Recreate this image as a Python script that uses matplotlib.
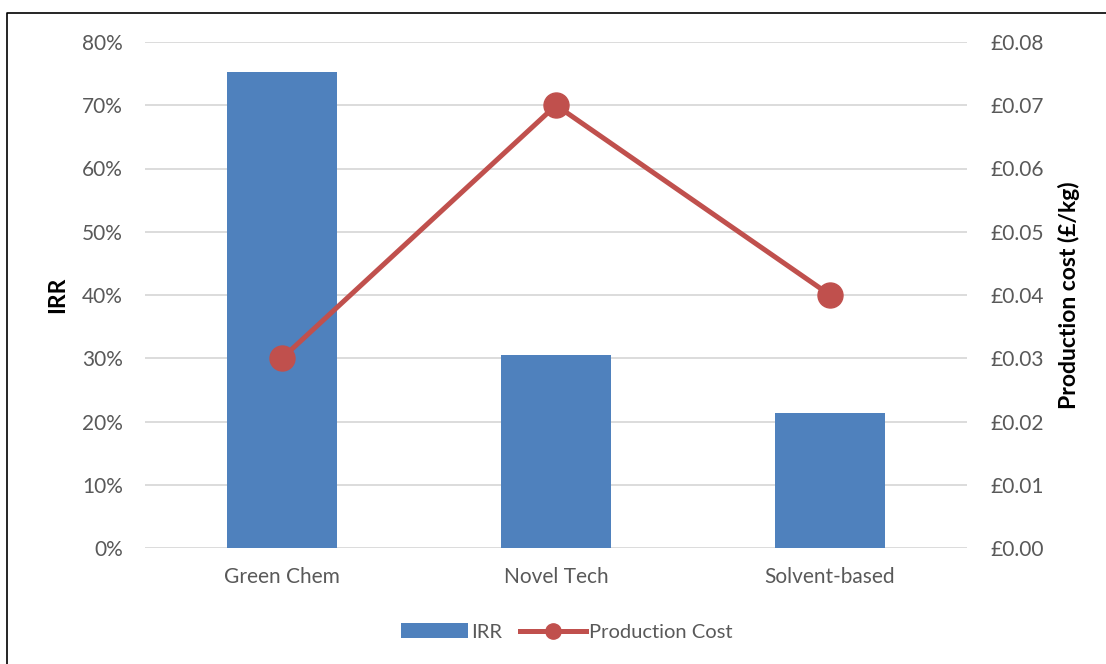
import matplotlib.pyplot as plt
from matplotlib.lines import Line2D
from matplotlib.patches import Patch
from matplotlib.ticker import FuncFormatter

categories = ["Green Chem", "Novel Tech", "Solvent-based"]
irr = [0.752, 0.305, 0.213]
production_cost = [0.03, 0.07, 0.04]

bar_color = "#4F81BD"
line_color = "#C0504D"
grid_color = "#D9D9D9"
text_color = "#595959"

plt.rcParams["font.family"] = ["Lato", "DejaVu Sans"]

fig = plt.figure(figsize=(11.06, 6.64), dpi=100)
ax = fig.add_axes([145 / 1106, 1 - 548 / 664, (967 - 145) / 1106, (548 - 42) / 664])
ax2 = ax.twinx()

x = list(range(len(categories)))
ax.bar(x, irr, width=0.4, color=bar_color, zorder=2)
ax.set_xlim(-0.5, len(categories) - 0.5)
ax.set_ylim(0, 0.8)
ax.set_yticks([i / 10 for i in range(9)])
ax.yaxis.set_major_formatter(FuncFormatter(lambda v, p: f"{v * 100:.0f}%"))
ax.set_xticks(x)
ax.set_xticklabels(categories)
ax.grid(axis="y", color=grid_color, linewidth=1.3, zorder=0)
ax.set_axisbelow(True)

ax2.plot(x, production_cost, color=line_color, linewidth=3.6, marker="o",
         markersize=18, zorder=3)
ax2.set_ylim(0, 0.08)
ax2.set_yticks([i / 100 for i in range(9)])
ax2.yaxis.set_major_formatter(FuncFormatter(lambda v, p: f"£{v:.2f}"))

for a in (ax, ax2):
    for s in a.spines.values():
        s.set_visible(False)
    a.tick_params(length=0, labelsize=15, colors=text_color)
ax.tick_params(axis="y", pad=16)
ax.tick_params(axis="x", pad=14)
ax2.tick_params(axis="y", pad=17)

ax.set_ylabel("IRR", fontsize=16.5, fontweight="bold", color="black", labelpad=10)
ax2.set_ylabel("Production cost (£/kg)", fontsize=16.5, fontweight="bold",
               color="black", labelpad=10)

handles = [
    Patch(facecolor=bar_color, label="IRR"),
    Line2D([0], [0], color=line_color, linewidth=3.6, marker="o", markersize=11,
           label="Production Cost"),
]
fig.legend(handles=handles, loc="center", bbox_to_anchor=(567 / 1106, 1 - 632 / 664),
           ncol=2, frameon=False, fontsize=14.5, handlelength=3.3, columnspacing=0.9,
           handletextpad=0.15, labelcolor=text_color)

# thin frame around the chart
fig.add_artist(Line2D([7 / 1106, 7 / 1106, 1.0], [0.0, 1 - 13 / 664, 1 - 13 / 664],
                      transform=fig.transFigure, color="black", linewidth=1.2))

fig.savefig("out.png", dpi=100, facecolor="white")
